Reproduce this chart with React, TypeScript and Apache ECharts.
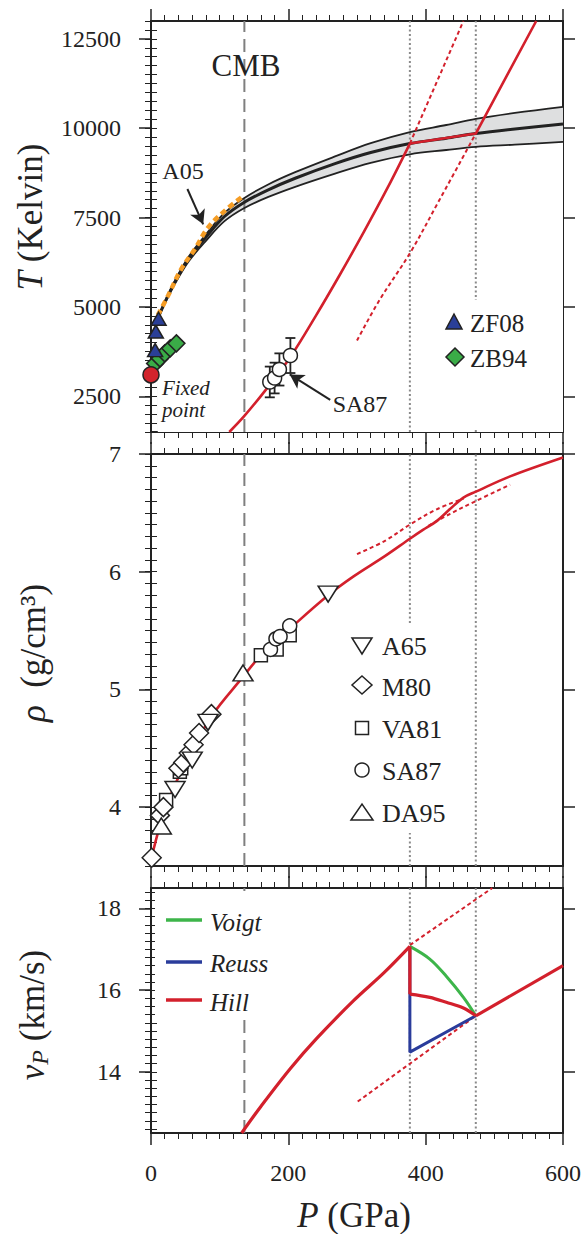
import React, { useEffect, useRef } from "react";
import * as echarts from "echarts";

const FONT = "Liberation Serif, Times New Roman, Times, serif";
const INK = "#222222";
const RED = "#d3202c";
const GREEN = "#3db54a";
const BLUE = "#2a3c9b";

// ---------- shared pressure axis (GPa) ----------
const P_RANGE = [0, 600];
const P_STEP = 200;
const cmbP = 136;
const transitionP = [377, 473];

// ---------- panel 1: temperature (K) ----------
const tRange = [1500, 13000];
const tMajor = [2500, 5000, 7500, 10000, 12500];
const bandP = [10, 20, 35, 55, 80, 107, 136, 170, 210, 268, 320, 377, 430, 473, 530, 600];
const bandMid = [4675, 5120, 5700, 6350, 6950, 7530, 7930, 8270, 8600, 9010, 9320, 9570, 9720, 9850, 9980, 10120];
const bandUpper = [4675, 5140, 5740, 6410, 7030, 7630, 8050, 8420, 8770, 9210, 9580, 9890, 10090, 10260, 10430, 10600];
const bandLower = [4675, 5095, 5650, 6275, 6850, 7400, 7770, 8070, 8360, 8730, 9030, 9270, 9390, 9480, 9540, 9620];
const a05P = [10, 25, 44, 64, 83, 107, 134];
const a05T = [4770, 5320, 6060, 6620, 7220, 7680, 8100];
const adiabatLowP = [114, 136, 170, 203, 240, 275, 310, 345, 377];
const adiabatLowT = [1500, 1950, 2750, 3600, 4750, 5900, 7100, 8350, 9570];
const adiabatHighP = [377, 473, 561];
const adiabatHighT = [9570, 9850, 13000];
const metaUpP = [377, 455];
const metaUpT = [9570, 13000];
const metaDownP = [300, 333, 377, 420, 473];
const metaDownT = [4060, 5200, 6500, 7990, 9850];
const zf08P = [6, 7, 11];
const zf08T = [3790, 4310, 4670];
const zb94P = [6, 13, 20, 28, 37];
const zb94T = [3420, 3560, 3700, 3840, 3980];
const fixedP = [0];
const fixedT = [3100];
const sa87TP = [173, 180, 187, 203];
const sa87T = [2900, 3010, 3250, 3640];
const sa87TErr = [430, 430, 450, 490];

// ---------- panel 2: density (g/cm3) ----------
const rhoRange = [3.5, 7];
const rhoMajor = [4, 5, 6, 7];
const rhoP = [0, 14, 35, 62, 89, 133, 160, 203, 258, 295, 340, 377, 396, 416, 435, 455, 473, 523, 600];
const rhoV = [3.55, 3.86, 4.19, 4.5, 4.78, 5.1, 5.29, 5.52, 5.8, 5.96, 6.13, 6.28, 6.355, 6.43, 6.53, 6.63, 6.68, 6.81, 6.97];
const rhoUpP = [300, 340, 377, 416, 455];
const rhoUpV = [6.15, 6.26, 6.4, 6.53, 6.62];
const rhoDownP = [404, 435, 473, 523];
const rhoDownV = [6.39, 6.49, 6.6, 6.74];
const a65P = [35, 60, 83, 258];
const a65V = [4.15, 4.4, 4.72, 5.81];
const m80P = [1, 13, 18, 40, 47, 55, 62, 70, 88];
const m80V = [3.57, 3.93, 4.0, 4.33, 4.38, 4.46, 4.53, 4.63, 4.79];
const va81P = [22, 42, 44, 160, 183, 202];
const va81V = [4.06, 4.3, 4.33, 5.29, 5.34, 5.46];
const sa87RP = [174, 182, 188, 202];
const sa87RV = [5.34, 5.43, 5.45, 5.54];
const da95P = [15, 134];
const da95V = [3.84, 5.14];

// ---------- panel 3: P-wave velocity (km/s) ----------
const vpRange = [12.5, 18.5];
const vpMajor = [14, 16, 18];
const hillLowP = [132, 160, 203, 241, 295, 339, 377];
const hillLowV = [12.5, 13.15, 14.08, 14.81, 15.74, 16.42, 17.07];
const hillDropP = [377, 377];
const hillDropV = [17.07, 15.9];
const hillMixP = [377, 406, 430, 455, 473];
const hillMixV = [15.9, 15.82, 15.7, 15.56, 15.37];
const hillHighP = [473, 600];
const hillHighV = [15.37, 16.6];
const voigtP = [377, 406, 430, 455, 473];
const voigtV = [17.07, 16.76, 16.34, 15.82, 15.37];
const reussP = [377, 377, 473];
const reussV = [17.07, 14.48, 15.37];
const vpUpP = [377, 497];
const vpUpV = [17.1, 18.5];
const vpDownP = [301, 473];
const vpDownV = [13.27, 15.37];

const pairs = (xs: number[], ys: number[]) => xs.map((x, i) => [x, ys[i]]);
const minorTicks = (min: number, max: number, step: number) => {
  const out: number[] = [];
  const start = Math.ceil(min / step - 1e-9);
  const end = Math.floor(max / step + 1e-9);
  for (let k = start; k <= end; k++) out.push(+(k * step).toFixed(4));
  return out;
};

const axisLineStyle = { color: INK, width: 2 };

function xAxes(g: number, showLabel: boolean) {
  const base = (pos: string, label: boolean) => ({
    type: "value",
    gridIndex: g,
    position: pos,
    min: P_RANGE[0],
    max: P_RANGE[1],
    interval: P_STEP,
    axisLine: { show: true, onZero: false, lineStyle: axisLineStyle },
    axisTick: { show: true, length: 12, lineStyle: { color: INK, width: 1.5 } },
    minorTick: { show: true, splitNumber: 10, length: 6, lineStyle: { color: INK, width: 1 } },
    axisLabel: {
      show: label,
      margin: 28,
      fontSize: 24,
      fontFamily: FONT,
      color: INK,
      formatter: (v: number) => String(v),
    },
    splitLine: { show: false },
    minorSplitLine: { show: false },
  });
  return [base("bottom", showLabel), base("top", false)];
}

function yAxes(g: number, range: number[], majors: number[], minorStep: number) {
  const minors = minorTicks(range[0], range[1], minorStep);
  const major = (pos: string, label: boolean) => ({
    type: "value",
    gridIndex: g,
    position: pos,
    min: range[0],
    max: range[1],
    axisLine: { show: true, onZero: false, lineStyle: axisLineStyle },
    axisTick: { show: true, length: 12, customValues: majors, lineStyle: { color: INK, width: 1.5 } },
    axisLabel: {
      show: label,
      customValues: majors,
      margin: 30,
      fontSize: 24,
      fontFamily: FONT,
      color: INK,
      formatter: (v: number) => String(v),
    },
    splitLine: { show: false },
  });
  const minor = (pos: string) => ({
    type: "value",
    gridIndex: g,
    position: pos,
    min: range[0],
    max: range[1],
    axisLine: { show: false },
    axisTick: { show: true, length: 6, customValues: minors, lineStyle: { color: INK, width: 1 } },
    axisLabel: { show: false },
    splitLine: { show: false },
  });
  return [major("left", true), minor("left"), major("right", false), minor("right")];
}

function line(g: number, xs: number[], ys: number[], color: string, width: number, type: any = "solid", z = 3, smooth: any = false) {
  return {
    type: "line",
    xAxisIndex: 2 * g,
    yAxisIndex: 4 * g,
    data: pairs(xs, ys),
    symbol: "none",
    showSymbol: false,
    smooth,
    lineStyle: { color, width, type, cap: "butt" },
    z,
    silent: true,
  };
}

function vline(g: number, p: number, range: number[], color: string, width: number, type: any) {
  return line(g, [p, p], [range[0], range[1]], color, width, type, 2);
}

function scatter(g: number, xs: number[], ys: number[], symbol: string, size: any, fill: string, z = 6, rotate = 0) {
  return {
    type: "scatter",
    xAxisIndex: 2 * g,
    yAxisIndex: 4 * g,
    data: pairs(xs, ys),
    symbol,
    symbolSize: size,
    symbolRotate: rotate,
    itemStyle: { color: fill, borderColor: INK, borderWidth: 1.5, opacity: 1 },
    z,
    silent: true,
  };
}

const text = (x: number, y: number, str: string, size: number, extra: any = {}) => ({
  type: "text",
  x,
  y,
  z: 102,
  style: {
    text: str,
    fontSize: size,
    fontFamily: FONT,
    fill: INK,
    align: "center",
    verticalAlign: "middle",
    ...extra,
  },
});

function buildOption() {
  const dashCMB = [13, 7];
  const dotted = [2, 2.5];
  const redDot = [4, 3];
  const SM = 0.35;

  const series: any[] = [
    // ----- panel 1 -----
    {
      ...line(0, bandP, bandUpper, "#dedfe0", 0, "solid", 1, SM),
      lineStyle: { width: 0, opacity: 0 },
      areaStyle: { color: "#dedfe0", opacity: 1, origin: "start" },
    },
    {
      ...line(0, bandP, bandLower, "#ffffff", 0, "solid", 1, SM),
      lineStyle: { width: 0, opacity: 0 },
      areaStyle: { color: "#ffffff", opacity: 1, origin: "start" },
    },
    vline(0, cmbP, tRange, "#7f7f7f", 2, dashCMB),
    vline(0, transitionP[0], tRange, "#8a8a8a", 2, dotted),
    vline(0, transitionP[1], tRange, "#8a8a8a", 2, dotted),
    line(0, bandP, bandUpper, INK, 1.8, "solid", 2, SM),
    line(0, bandP, bandLower, INK, 1.8, "solid", 2, SM),
    line(0, bandP, bandMid, INK, 3, "solid", 2, SM),
    line(0, a05P, a05T, "#f59d25", 4.5, [6, 4], 3, SM),
    line(0, adiabatLowP, adiabatLowT, RED, 2.6, "solid", 3, SM),
    line(0, adiabatHighP, adiabatHighT, RED, 2.6, "solid", 3),
    line(0, metaUpP, metaUpT, RED, 2, redDot, 3),
    line(0, metaDownP, metaDownT, RED, 2, redDot, 3, SM),
    {
      type: "custom",
      xAxisIndex: 0,
      yAxisIndex: 0,
      data: sa87TP.map((p, i) => [p, sa87T[i], sa87TErr[i]]),
      z: 5,
      silent: true,
      renderItem: (_params: any, api: any) => {
        const x = api.value(0);
        const y = api.value(1);
        const e = api.value(2);
        const top = api.coord([x, y + e]);
        const bot = api.coord([x, y - e]);
        const w = 5;
        const st = { stroke: INK, lineWidth: 1.8 };
        return {
          type: "group",
          children: [
            { type: "line", shape: { x1: top[0], y1: top[1], x2: bot[0], y2: bot[1] }, style: st },
            { type: "line", shape: { x1: top[0] - w, y1: top[1], x2: top[0] + w, y2: top[1] }, style: st },
            { type: "line", shape: { x1: bot[0] - w, y1: bot[1], x2: bot[0] + w, y2: bot[1] }, style: st },
          ],
        };
      },
    },
    scatter(0, sa87TP, sa87T, "circle", 14, "#ffffff", 6),
    scatter(0, zb94P, zb94T, "diamond", 17, "#3aac47", 6),
    scatter(0, zf08P, zf08T, "triangle", [15, 13], "#2a3f98", 7),
    {
      ...scatter(0, fixedP, fixedT, "circle", 16, "#d2232c", 8),
      markLine: {
        silent: true,
        animation: false,
        symbol: ["none", "arrow"],
        symbolSize: [12, 14],
        label: { show: false },
        lineStyle: { color: INK, width: 2, type: "solid" },
        data: [
          [{ coord: [53, 8300] }, { coord: [76, 7310] }],
          [{ coord: [261, 2400] }, { coord: [202, 3110] }],
        ],
      },
    },

    // ----- panel 2 -----
    vline(1, cmbP, rhoRange, "#7f7f7f", 2, dashCMB),
    vline(1, transitionP[0], rhoRange, "#8a8a8a", 2, dotted),
    vline(1, transitionP[1], rhoRange, "#8a8a8a", 2, dotted),
    line(1, rhoP, rhoV, RED, 2.6, "solid", 3, SM),
    line(1, rhoUpP, rhoUpV, RED, 2, redDot, 3, SM),
    line(1, rhoDownP, rhoDownV, RED, 2, redDot, 3, SM),
    scatter(1, va81P, va81V, "rect", 13, "#ffffff", 6),
    scatter(1, m80P, m80V, "diamond", [19, 19], "#ffffff", 6),
    scatter(1, a65P, a65V, "triangle", [20, 16], "#ffffff", 6, 180),
    scatter(1, sa87RP, sa87RV, "circle", 14, "#ffffff", 6),
    scatter(1, da95P, da95V, "triangle", [20, 16], "#ffffff", 6),

    // ----- panel 3 -----
    vline(2, cmbP, vpRange, "#7f7f7f", 2, dashCMB),
    vline(2, transitionP[0], vpRange, "#8a8a8a", 2, dotted),
    vline(2, transitionP[1], vpRange, "#8a8a8a", 2, dotted),
    line(2, vpUpP, vpUpV, RED, 2, redDot, 3),
    line(2, vpDownP, vpDownV, RED, 2, redDot, 3),
    line(2, reussP, reussV, BLUE, 3, "solid", 4),
    line(2, voigtP, voigtV, GREEN, 3, "solid", 4, SM),
    line(2, hillLowP, hillLowV, RED, 3.2, "solid", 5, SM),
    line(2, hillDropP, hillDropV, RED, 3.2, "solid", 5),
    line(2, hillMixP, hillMixV, RED, 3.2, "solid", 5, SM),
    line(2, hillHighP, hillHighV, RED, 3.2, "solid", 5),
  ];

  const box = (x: number, y: number, w: number, h: number) => ({
    type: "rect",
    z: 100,
    shape: { x, y, width: w, height: h },
    style: { fill: "#ffffff" },
  });
  const poly = (pts: number[][], fill: string) => ({
    type: "polygon",
    z: 101,
    shape: { points: pts },
    style: { fill, stroke: INK, lineWidth: 1.5 },
  });
  const legLine = (y: number, color: string) => ({
    type: "line",
    z: 101,
    shape: { x1: 166, y1: y, x2: 202, y2: y },
    style: { stroke: color, lineWidth: 3.5 },
  });

  const graphics: any[] = [
    box(441, 300, 104, 130),
    poly([[454, 314], [462, 329], [446, 329]], "#2a3f98"),
    poly([[455, 348], [464, 357], [455, 366], [446, 357]], "#3aac47"),
    text(470, 323, "ZF08", 25, { align: "left" }),
    text(470, 358, "ZB94", 25, { align: "left" }),
    text(246, 65, "CMB", 31),
    text(183, 171, "A05", 24),
    text(360, 404, "SA87", 24),
    text(162, 388, "Fixed", 21, { align: "left", fontStyle: "italic" }),
    text(162, 410, "point", 21, { align: "left", fontStyle: "italic" }),
    box(346, 623, 108, 210),
    poly([[352, 638], [372, 638], [362, 654]], "#ffffff"),
    poly([[362, 676], [372, 685], [362, 694], [352, 685]], "#ffffff"),
    { type: "rect", z: 101, shape: { x: 355.5, y: 721.5, width: 13, height: 13 }, style: { fill: "#fff", stroke: INK, lineWidth: 1.5 } },
    { type: "circle", z: 101, shape: { cx: 362, cy: 770, r: 7 }, style: { fill: "#fff", stroke: INK, lineWidth: 1.5 } },
    poly([[351, 820], [373, 820], [362, 804]], "#ffffff"),
    text(382, 646, "A65", 26, { align: "left" }),
    text(382, 687, "M80", 26, { align: "left" }),
    text(382, 729, "VA81", 26, { align: "left" }),
    text(382, 771, "SA87", 26, { align: "left" }),
    text(382, 813, "DA95", 26, { align: "left" }),
    box(155, 891, 112, 124),
    legLine(920, GREEN),
    legLine(962, BLUE),
    legLine(1000, RED),
    text(210, 922, "Voigt", 25, { align: "left", fontStyle: "italic" }),
    text(210, 963, "Reuss", 25, { align: "left", fontStyle: "italic" }),
    text(210, 1002, "Hill", 25, { align: "left", fontStyle: "italic" }),
    {
      type: "text",
      x: 30,
      y: 217,
      rotation: Math.PI / 2,
      z: 102,
      style: {
        text: "{i|T} (Kelvin)",
        fontSize: 35,
        fontFamily: FONT,
        fill: INK,
        align: "center",
        verticalAlign: "middle",
        rich: { i: { fontSize: 35, fontFamily: FONT, fontStyle: "italic", fill: INK } },
      },
    },
    {
      type: "text",
      x: 33,
      y: 653,
      rotation: Math.PI / 2,
      z: 102,
      style: {
        text: "{i|ρ}  (g/cm³)",
        fontSize: 35,
        fontFamily: FONT,
        fill: INK,
        align: "center",
        verticalAlign: "middle",
        rich: { i: { fontSize: 35, fontFamily: FONT, fontStyle: "italic", fill: INK } },
      },
    },
    {
      type: "text",
      x: 32,
      y: 1015,
      rotation: Math.PI / 2,
      z: 102,
      style: {
        text: "{v|v}{s|P} {n|(km/s)}",
        fontSize: 35,
        fontFamily: FONT,
        fill: INK,
        align: "center",
        verticalAlign: "middle",
        rich: {
          v: { fontSize: 35, fontFamily: FONT, fontStyle: "italic", fill: INK, lineHeight: 40 },
          s: { fontSize: 24, fontFamily: FONT, fontStyle: "italic", fill: INK, lineHeight: 16, verticalAlign: "bottom" },
          n: { fontSize: 35, fontFamily: FONT, fill: INK, lineHeight: 40 },
        },
      },
    },
    {
      type: "text",
      x: 354,
      y: 1215,
      z: 102,
      style: {
        text: "{i|P} (GPa)",
        fontSize: 35,
        fontFamily: FONT,
        fill: INK,
        align: "center",
        verticalAlign: "middle",
        rich: { i: { fontSize: 35, fontFamily: FONT, fontStyle: "italic", fill: INK } },
      },
    },
  ];

  return {
    animation: false,
    backgroundColor: "#ffffff",
    textStyle: { fontFamily: FONT },
    grid: [
      { left: 151, top: 21, width: 412, height: 411 },
      { left: 151, top: 454, width: 412, height: 412 },
      { left: 151, top: 888, width: 412, height: 245 },
    ],
    xAxis: [...xAxes(0, false), ...xAxes(1, false), ...xAxes(2, true)],
    yAxis: [
      ...yAxes(0, tRange, tMajor, 250),
      ...yAxes(1, rhoRange, rhoMajor, 0.1),
      ...yAxes(2, vpRange, vpMajor, 0.2),
    ],
    series,
    graphic: { elements: graphics },
  };
}

export default function App() {
  const ref = useRef<HTMLDivElement | null>(null);
  useEffect(() => {
    if (!ref.current) return;
    const chart = echarts.init(ref.current, null, { renderer: "svg" });
    chart.setOption(buildOption() as any);
    return () => chart.dispose();
  }, []);
  return (
    <div
      ref={ref}
      style={{ position: "absolute", left: 0, top: 0, width: 584, height: 1234, background: "#fff" }}
    />
  );
}
